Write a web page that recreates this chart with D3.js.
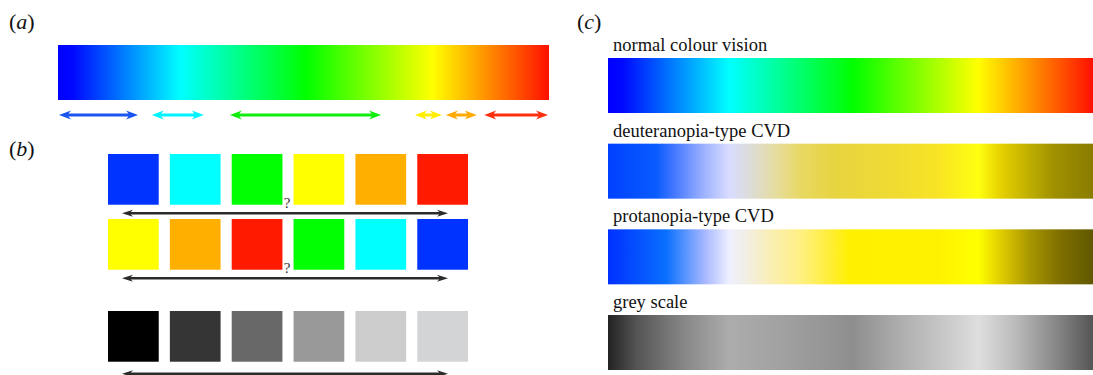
<!DOCTYPE html>
<html>
<head>
<meta charset="utf-8">
<script src="https://cdn.jsdelivr.net/npm/d3@7"></script>
<style>
  body { margin: 0; background: #fff; }
</style>
</head>
<body>
<div id="chart"></div>
<script>
// colour ramps: [offset, colour]
var spectrumNormal = [[0, "#0000ff"], [0.03, "#0008ff"], [0.25, "#00ffff"], [0.505, "#00ff00"],
  [0.763, "#ffff00"], [1, "#ff1000"]];
var spectrumDeut = [[0, "#0040ff"], [0.1, "#0a5cff"], [0.13, "#3a72ff"], [0.2, "#a0b4ff"],
  [0.25, "#d8dcff"], [0.29, "#dcdcdc"], [0.35, "#e6dc9a"], [0.4, "#e8d860"], [0.47, "#e8d440"],
  [0.6, "#f0dc30"], [0.68, "#f8e424"], [0.764, "#ffff10"], [0.81, "#e6d000"], [0.88, "#b8a800"],
  [0.92, "#a09000"], [1, "#8a7c00"]];
var spectrumProt = [[0, "#0030ff"], [0.12, "#0a70ff"], [0.2, "#a8b8ff"], [0.25, "#eef0ff"],
  [0.29, "#f2eee0"], [0.34, "#faeeb0"], [0.4, "#fff080"], [0.45, "#ffee40"], [0.5, "#fff000"],
  [0.68, "#fff200"], [0.764, "#ffff00"], [0.81, "#e0cc00"], [0.87, "#a89600"], [0.93, "#807000"],
  [1, "#605800"]];
var spectrumGrey = [[0, "#222222"], [0.06, "#555555"], [0.16, "#888888"], [0.25, "#acacac"],
  [0.37, "#a0a0a0"], [0.505, "#8e8e8e"], [0.61, "#b0b0b0"], [0.7, "#cacaca"], [0.764, "#dedede"],
  [0.836, "#bdbdbd"], [0.92, "#8a8a8a"], [1, "#555555"]];

// panel (a): ranges along the spectrum
var rangeStart = [0.002, 0.191, 0.35, 0.727, 0.79, 0.868];
var rangeEnd = [0.163, 0.297, 0.658, 0.782, 0.853, 0.998];
var rangeColors = ["#1a55f0", "#00f4ff", "#10ee10", "#ffee00", "#ffaa00", "#ff3010"];

// panel (b): swatches
var swatchRow1 = ["#0033ff", "#00ffff", "#00ff00", "#ffff00", "#ffaf00", "#ff1a00"];
var swatchRow2 = ["#ffff00", "#ffaf00", "#ff1a00", "#00ff00", "#00ffff", "#0033ff"];
var swatchRow3 = ["#000000", "#353535", "#686868", "#999999", "#cccccc", "#d3d4d6"];

// panel (c)
var rampLabels = ["normal colour vision", "deuteranopia-type CVD", "protanopia-type CVD", "grey scale"];
var rampStops = [spectrumNormal, spectrumDeut, spectrumProt, spectrumGrey];

var panelLabels = ["(a)", "(b)", "(c)"];

var width = 1093, height = 375;
var serif = "'Liberation Serif', 'Times New Roman', Times, 'DejaVu Serif', serif";
var svg = d3.select("#chart").append("svg")
  .attr("width", width)
  .attr("height", height)
  .attr("font-family", serif);
var defs = svg.append("defs");

function addGradient(id, stops) {
  var g = defs.append("linearGradient").attr("id", id)
    .attr("x1", "0%").attr("x2", "100%").attr("y1", "0%").attr("y2", "0%");
  g.selectAll("stop").data(stops).enter().append("stop")
    .attr("offset", function (d) { return d[0] * 100 + "%"; })
    .attr("stop-color", function (d) { return d[1]; });
}

// double headed arrow as one filled path
function arrowPath(x0, x1, y, lw, hl, hh) {
  var p = d3.path();
  p.moveTo(x0, y);
  p.lineTo(x0 + hl, y - hh);
  p.lineTo(x0 + hl * 0.8, y - lw / 2);
  p.lineTo(x1 - hl * 0.8, y - lw / 2);
  p.lineTo(x1 - hl, y - hh);
  p.lineTo(x1, y);
  p.lineTo(x1 - hl, y + hh);
  p.lineTo(x1 - hl * 0.8, y + lw / 2);
  p.lineTo(x0 + hl * 0.8, y + lw / 2);
  p.lineTo(x0 + hl, y + hh);
  p.closePath();
  return p.toString();
}

// panel labels
svg.selectAll(".plabel").data(panelLabels).enter().append("text")
  .attr("class", "plabel")
  .attr("x", function (d, i) { return i == 2 ? 577 : 9; })
  .attr("y", function (d, i) { return i == 1 ? 156 : 29; })
  .attr("font-family", serif)
  .attr("fill", "#111")
  .style("font-size", "22px")
  .html(function (d) { return "(<tspan font-style='italic'>" + d.slice(1, 2) + "</tspan>)"; });

// ---- panel (a)
var xa = d3.scaleLinear().domain([0, 1]).range([58, 549]);
addGradient("gradA", spectrumNormal);
svg.append("rect")
  .attr("x", xa(0)).attr("y", 45)
  .attr("width", xa(1) - xa(0)).attr("height", 55)
  .attr("fill", "url(#gradA)");

svg.selectAll(".rangeArrow").data(rangeStart).enter().append("path")
  .attr("class", "rangeArrow")
  .attr("d", function (d, i) { return arrowPath(xa(d), xa(rangeEnd[i]), 115, 3, 12, 4.5); })
  .attr("fill", function (d, i) { return rangeColors[i]; });

// ---- panel (b)
var xb = d3.scaleBand().domain(d3.range(6)).range([108, 468]).paddingInner(0.18);
var rowTop = [154, 219, 311];
var rows = [swatchRow1, swatchRow2, swatchRow3];

rows.forEach(function (row, r) {
  svg.append("g").selectAll("rect").data(row).enter().append("rect")
    .attr("x", function (d, i) { return xb(i); })
    .attr("y", rowTop[r])
    .attr("width", xb.bandwidth())
    .attr("height", xb.bandwidth())
    .attr("fill", function (d) { return d; });

  var ay = rowTop[r] + xb.bandwidth() + 8.5;
  if (r == 2) ay = rowTop[r] + xb.bandwidth() + 12;
  svg.append("path")
    .attr("d", arrowPath(122, 448, ay, 2.6, 11, 3.5))
    .attr("fill", "#2b2b2b");

  if (r < 2) {
    svg.append("text")
      .attr("x", 287).attr("y", rowTop[r] + xb.bandwidth() + 3)
      .attr("text-anchor", "middle")
      .attr("font-family", serif)
      .attr("fill", "#333")
      .style("font-size", "15px")
      .text("?");
  }
});

// ---- panel (c)
var xc = d3.scaleLinear().domain([0, 1]).range([608, 1093]);
var yc = d3.scaleBand().domain(rampLabels).range([58, 370]).paddingInner(0.358);

rampLabels.forEach(function (lab, i) {
  addGradient("gradC" + i, rampStops[i]);
});

svg.selectAll(".ramp").data(rampLabels).enter().append("rect")
  .attr("class", "ramp")
  .attr("x", xc(0))
  .attr("y", function (d) { return yc(d); })
  .attr("width", xc(1) - xc(0))
  .attr("height", yc.bandwidth())
  .attr("fill", function (d, i) { return "url(#gradC" + i + ")"; });

svg.selectAll(".rampLabel").data(rampLabels).enter().append("text")
  .attr("class", "rampLabel")
  .attr("x", 613)
  .attr("y", function (d) { return yc(d) - 7; })
  .attr("font-family", serif)
  .attr("fill", "#111")
  .style("font-size", "18.5px")
  .text(function (d) { return d; });
</script>
</body>
</html>
